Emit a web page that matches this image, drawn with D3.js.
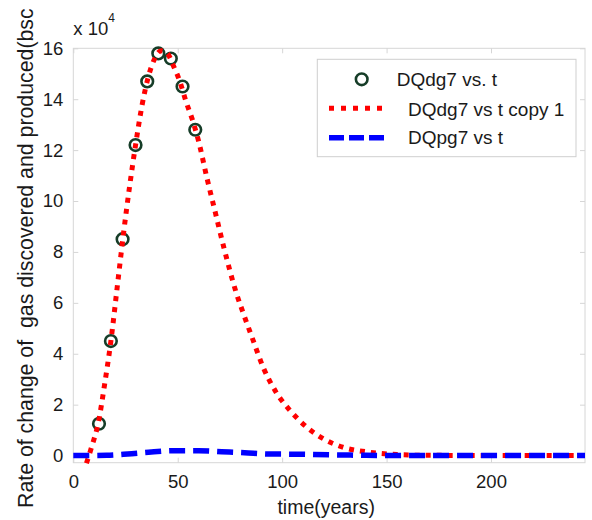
<!DOCTYPE html>
<html>
<head>
<meta charset="utf-8">
<script src="https://cdn.jsdelivr.net/npm/d3@7"></script>
<style>
  html, body { margin: 0; padding: 0; background: #fff; }
  svg { display: block; font-family: "Liberation Sans", Arial, sans-serif; }
</style>
</head>
<body>
<svg id="chart" width="592" height="520"></svg>
<script>
// Observed discovery rate (circles)
const obsTime = [12.3, 18.0, 23.6, 29.8, 35.4, 40.7, 46.7, 52.3, 58.4];
const obsRate = [12500, 45000, 85000, 122000, 147000, 158000, 156000, 145000, 128000];

// Fitted discovery rate (red dotted)
const fitTime = [6.3, 9, 12, 15, 18, 21, 24, 27, 30, 33, 36, 39, 42, 45, 48, 51, 54, 57, 60, 64, 68, 72, 78, 82, 86, 91, 97, 104, 112, 120, 129, 142, 155, 170, 245];
const fitRate = [-3000, 4000, 13000, 28000, 45000, 66000, 87000, 106000, 123000, 138000, 149000, 156000, 159000, 158000, 153000, 147000, 139000, 132000, 123500, 109000, 95500, 82000, 64000, 54500, 45500, 34500, 25000, 17500, 11000, 6500, 3300, 1300, 400, 100, 0];

// Production rate (blue dashed)
const prodTime = [0, 3, 16, 26, 36, 49, 60, 71, 82, 94, 106, 115, 128, 140, 155, 245];
const prodRate = [0, 0, 100, 600, 1300, 1900, 1900, 1500, 1100, 600, 550, 400, 250, 100, 0, 0];

const xTicks = [0, 50, 100, 150, 200];
const yTicks = [0, 20000, 40000, 60000, 80000, 100000, 120000, 140000, 160000];

const legendLabels = ["DQdg7 vs. t", "DQdg7 vs t copy 1", "DQpg7 vs t"];
const yTitle = "Rate of change of  gas discovered and produced(bsc";
const xTitle = "time(years)";

const svg = d3.select("#chart");
const plotL = 73.3, plotR = 585, plotT = 48.3, plotB = 462.7;

const x = d3.scaleLinear().domain([0, 245]).range([plotL, plotR]);
const y = d3.scaleLinear().domain([-2800, 160000]).range([plotB, plotT]);

const boxColor = "#d6d6d6";
const textColor = "#1a1a1a";

// axes box
svg.append("rect")
  .attr("x", plotL).attr("y", plotT)
  .attr("width", plotR - plotL).attr("height", plotB - plotT)
  .attr("fill", "#fff").attr("stroke", boxColor).attr("stroke-width", 1);

// inward tick marks on all four sides
const tickLen = 5;
const xAxisB = d3.axisBottom(x).tickValues(xTicks).tickSizeInner(-tickLen).tickSizeOuter(0).tickPadding(12).tickFormat(d3.format("d"));
const xAxisT = d3.axisTop(x).tickValues(xTicks).tickSizeInner(-tickLen).tickSizeOuter(0).tickFormat("");
const yAxisL = d3.axisLeft(y).tickValues(yTicks).tickSizeInner(-tickLen).tickSizeOuter(0).tickPadding(10).tickFormat(d => d / 10000);
const yAxisR = d3.axisRight(y).tickValues(yTicks).tickSizeInner(-tickLen).tickSizeOuter(0).tickFormat("");

function styleAxis(g) {
  g.select(".domain").remove();
  g.selectAll(".tick line").attr("stroke", boxColor);
  g.selectAll(".tick text")
    .attr("fill", textColor)
    .style("font-size", "18.5px")
    .style("font-family", "'Liberation Sans', Arial, sans-serif");
}

svg.append("g").attr("transform", `translate(0,${plotB})`).call(xAxisB).call(styleAxis);
svg.append("g").attr("transform", `translate(0,${plotT})`).call(xAxisT).call(styleAxis);
svg.append("g").attr("transform", `translate(${plotL},0)`).call(yAxisL).call(styleAxis);
svg.append("g").attr("transform", `translate(${plotR},0)`).call(yAxisR).call(styleAxis);

// exponent label
const expo = svg.append("text")
  .attr("x", plotL).attr("y", 35)
  .attr("fill", textColor)
  .style("font-size", "18.5px");
expo.append("tspan").text("x 10");
expo.append("tspan").attr("dy", -13).style("font-size", "12px").text("4");

// axis titles
svg.append("text")
  .attr("x", (plotL + plotR) / 2 - 3).attr("y", 514)
  .attr("text-anchor", "middle")
  .attr("fill", textColor)
  .style("font-size", "19.5px")
  .text(xTitle);

svg.append("text")
  .attr("transform", "translate(33,508) rotate(-90)")
  .attr("fill", textColor)
  .style("font-size", "21.3px")
  .style("white-space", "pre")
  .text(yTitle);

// series
const obs = obsTime.map((t, i) => ({ t, v: obsRate[i] }));
const fit = fitTime.map((t, i) => ({ t, v: fitRate[i] }));
const prod = prodTime.map((t, i) => ({ t, v: prodRate[i] }));

const line = d3.line().x(d => x(d.t)).y(d => y(d.v)).curve(d3.curveMonotoneX);

const green = "#163d28";
const red = "#ff0000";
const blue = "#0000ff";

svg.append("g").selectAll("circle")
  .data(obs).join("circle")
  .attr("cx", d => x(d.t)).attr("cy", d => y(d.v))
  .attr("r", 5.8)
  .attr("fill", "none").attr("stroke", green).attr("stroke-width", 2.6);

svg.append("path").datum(fit)
  .attr("d", line)
  .attr("fill", "none").attr("stroke", red)
  .attr("stroke-width", 5).attr("stroke-dasharray", "5,6");

svg.append("path").datum(prod)
  .attr("d", line)
  .attr("fill", "none").attr("stroke", blue)
  .attr("stroke-width", 5.5).attr("stroke-dasharray", "16,8");

// legend
const lg = svg.append("g");
lg.append("rect")
  .attr("x", 317.3).attr("y", 59.3)
  .attr("width", 258.7).attr("height", 97.4)
  .attr("fill", "#fff").attr("stroke", "#cfcfcf").attr("stroke-width", 1);

lg.append("circle")
  .attr("cx", 361.7).attr("cy", 79.3).attr("r", 5.8)
  .attr("fill", "none").attr("stroke", green).attr("stroke-width", 2.6);
lg.append("line")
  .attr("x1", 329).attr("x2", 384).attr("y1", 108.3).attr("y2", 108.3)
  .attr("stroke", red).attr("stroke-width", 5).attr("stroke-dasharray", "5,7");
lg.append("line")
  .attr("x1", 329).attr("x2", 384).attr("y1", 137.7).attr("y2", 137.7)
  .attr("stroke", blue).attr("stroke-width", 5.5).attr("stroke-dasharray", "15,5");

const legendPos = [[396.7, 86], [408, 115.5], [408, 144]];
lg.selectAll("text.lbl")
  .data(legendLabels).join("text")
  .attr("class", "lbl")
  .attr("x", (d, i) => legendPos[i][0]).attr("y", (d, i) => legendPos[i][1])
  .attr("fill", textColor)
  .style("font-size", "19px")
  .text(d => d);
</script>
</body>
</html>
